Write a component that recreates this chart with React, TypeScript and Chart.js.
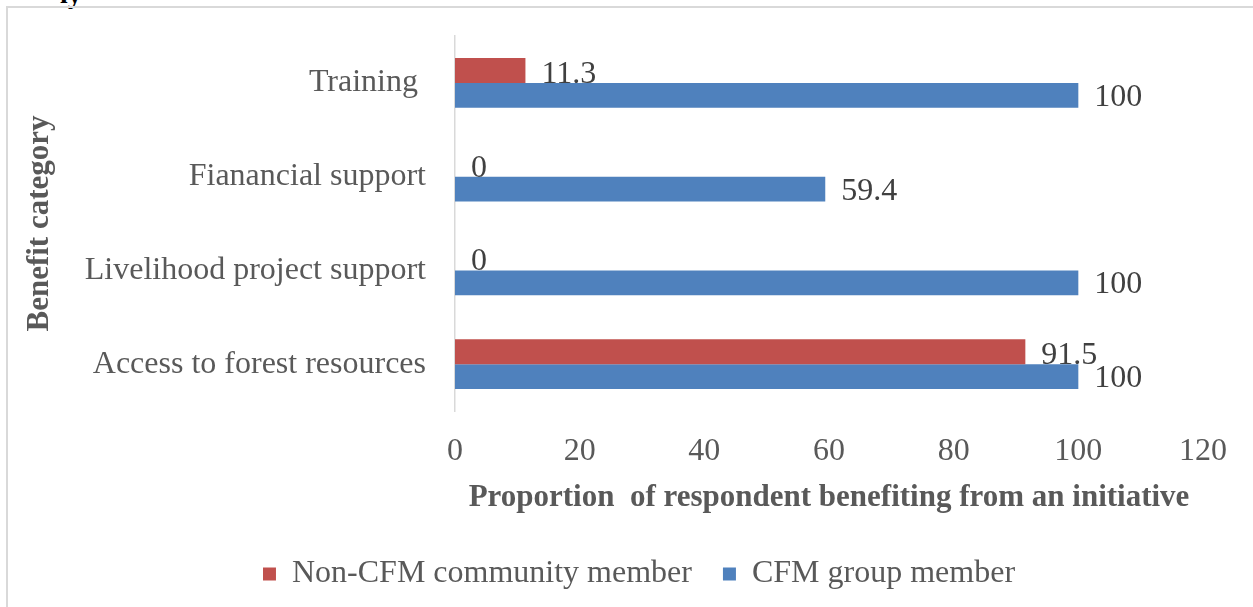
import React, { useEffect, useRef } from "react";
import { Chart, registerables } from "chart.js";

Chart.register(...registerables);

const categories = ["Training ", "Fianancial support", "Livelihood project support", "Access to forest resources"];
const nonCfmValues = [11.3, 0, 0, 91.5];
const cfmValues = [100, 59.4, 100, 100];
const seriesNames = ["Non-CFM community member", "CFM group member"];
const xTitle = "Proportion  of respondent benefiting from an initiative";
const yTitle = "Benefit category";

const FONT = "'Liberation Serif', 'Times New Roman', serif";

const labelPlugin = {
  id: "barLabels",
  afterDatasetsDraw(chart: any) {
    const ctx = chart.ctx;
    ctx.save();
    ctx.font = `32px ${FONT}`;
    ctx.fillStyle = "#404040";
    ctx.textAlign = "left";
    ctx.textBaseline = "middle";
    chart.data.datasets.forEach((ds: any, di: number) => {
      const meta = chart.getDatasetMeta(di);
      meta.data.forEach((bar: any, i: number) => {
        const v = ds.data[i];
        const dy = di === 0 ? 4 : 2;
        ctx.fillText(String(v), bar.x + 16, bar.y + dy);
      });
    });
    ctx.restore();
  },
};

export default function App() {
  const ref = useRef<HTMLCanvasElement>(null);
  useEffect(() => {
    const chart = new Chart(ref.current!, {
      type: "bar",
      data: {
        labels: categories,
        datasets: [
          { label: seriesNames[0], data: nonCfmValues, backgroundColor: "#C0504D", categoryPercentage: 0.532, barPercentage: 1 },
          { label: seriesNames[1], data: cfmValues, backgroundColor: "#4F81BD", categoryPercentage: 0.532, barPercentage: 1 },
        ],
      },
      options: {
        indexAxis: "y",
        animation: false,
        responsive: false,
        maintainAspectRatio: false,
        layout: { padding: { left: 25, top: 36, right: 0, bottom: 40 } },
        plugins: {
          legend: {
            position: "bottom",
            labels: {
              font: { family: FONT, size: 32 },
              color: "#595959",
              boxWidth: 13,
              boxHeight: 13,
              padding: 31,
            },
          },
          tooltip: { enabled: false },
        },
        scales: {
          x: {
            min: 0,
            max: 120,
            ticks: { stepSize: 20, font: { family: FONT, size: 32 }, color: "#595959", padding: 21 },
            grid: { display: false, drawTicks: false },
            border: { display: false },
            title: { display: true, text: xTitle, font: { family: FONT, size: 31, weight: "bold" }, color: "#595959", padding: { top: 0, bottom: 10 } },
            afterFit: (s: any) => { s.height = 116; s.paddingRight = 50; s.paddingLeft = 0; },
          },
          y: {
            ticks: { font: { family: FONT, size: 32 }, color: "#595959", padding: 29 },
            grid: { display: false, drawTicks: false },
            border: { display: true, color: "#D9D9D9", width: 1.5 },
            title: { display: true, text: yTitle, font: { family: FONT, size: 31, weight: "bold" }, color: "#595959", padding: { top: -4, bottom: 0 } },
            afterFit: (s: any) => { s.width = 430; s.paddingTop = 0; s.paddingBottom = 0; },
          },
        },
      },
      plugins: [labelPlugin],
    });
    return () => chart.destroy();
  }, []);
  return (
    <div style={{ position: "fixed", left: 0, top: 0, width: 1253, height: 607, overflow: "hidden", background: "#fff" }}>
      <div style={{ position: "absolute", left: 60, top: -22, font: `bold 28px ${FONT}`, color: "#000" }}>ly</div>
      <div style={{ position: "absolute", left: 6, top: 6, width: 1260, height: 660, border: "2px solid #D9D9D9", boxSizing: "border-box" }} />
      <canvas ref={ref} width={1253} height={640} style={{ position: "absolute", left: 0, top: 0 }} />
    </div>
  );
}
